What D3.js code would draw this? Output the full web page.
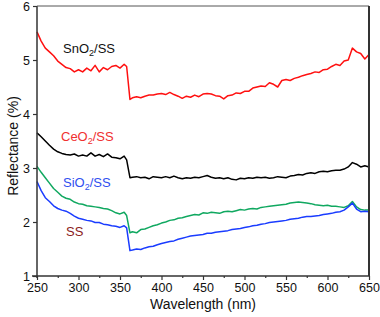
<!DOCTYPE html>
<html>
<head>
<meta charset="utf-8">
<script src="https://cdn.jsdelivr.net/npm/d3@7"></script>
<style>
  body { margin: 0; background: #fff; }
  svg text { font-family: "Liberation Sans", Arial, sans-serif; }
</style>
</head>
<body>
<div id="chart"></div>
<script>
//wavelengths (nm), shared by all four spectra
const wavelength = [250,255,260,265,270,275,280,285,290,295,300,305,310,315,320,325,330,335,340,345,350,355,358,
  362,365,370,375,380,385,390,395,400,405,410,415,420,425,430,435,440,445,450,455,460,465,470,475,480,485,490,495,
  500,505,510,515,520,525,530,535,540,545,550,555,560,565,570,575,580,585,590,595,600,605,610,615,620,625,630,635,640,645,650];

//reflectance (%)
const redSeries = [5.52,5.35,5.22,5.15,5.08,4.98,4.92,4.86,4.84,4.78,4.82,4.78,4.85,4.80,4.90,4.78,4.86,4.82,4.88,4.90,4.85,4.92,4.88,
  4.27,4.30,4.32,4.30,4.33,4.35,4.35,4.37,4.38,4.36,4.40,4.36,4.33,4.29,4.33,4.31,4.35,4.32,4.37,4.38,4.37,4.34,4.33,4.28,4.34,4.35,4.39,4.38,
  4.42,4.42,4.48,4.50,4.52,4.51,4.58,4.55,4.50,4.62,4.64,4.62,4.66,4.68,4.71,4.73,4.75,4.78,4.77,4.82,4.83,4.88,4.92,4.90,4.98,5.00,5.22,5.15,5.12,5.02,5.10];
const blackSeries = [3.65,3.58,3.50,3.42,3.35,3.30,3.27,3.25,3.24,3.26,3.22,3.24,3.22,3.28,3.22,3.25,3.21,3.26,3.20,3.19,3.17,3.22,3.15,
  2.82,2.83,2.84,2.82,2.83,2.80,2.84,2.83,2.82,2.84,2.82,2.85,2.82,2.80,2.82,2.81,2.83,2.82,2.84,2.86,2.83,2.81,2.82,2.80,2.82,2.79,2.78,2.81,
  2.80,2.82,2.81,2.83,2.82,2.83,2.81,2.82,2.84,2.83,2.82,2.85,2.86,2.88,2.87,2.90,2.91,2.90,2.93,2.94,2.93,2.95,2.96,2.96,2.98,3.02,3.10,3.07,3.02,3.04,3.02];
const greenSeries = [3.03,2.92,2.82,2.72,2.62,2.55,2.48,2.44,2.42,2.37,2.34,2.33,2.30,2.29,2.28,2.27,2.25,2.24,2.21,2.17,2.15,2.18,2.12,
  1.80,1.82,1.80,1.86,1.87,1.90,1.93,1.95,1.98,2.00,2.03,2.04,2.07,2.08,2.10,2.12,2.14,2.13,2.17,2.16,2.18,2.17,2.16,2.19,2.20,2.19,2.21,2.23,
  2.22,2.24,2.25,2.24,2.27,2.28,2.29,2.30,2.31,2.32,2.33,2.35,2.36,2.37,2.36,2.35,2.34,2.32,2.31,2.30,2.31,2.29,2.29,2.28,2.27,2.30,2.38,2.28,2.23,2.22,2.22];
const blueSeries = [2.75,2.58,2.45,2.38,2.30,2.25,2.22,2.20,2.16,2.11,2.07,2.05,2.03,2.02,1.99,1.99,1.96,1.95,1.93,1.92,1.90,1.93,1.89,
  1.47,1.48,1.50,1.49,1.52,1.54,1.55,1.58,1.60,1.62,1.64,1.65,1.68,1.70,1.72,1.74,1.75,1.76,1.77,1.79,1.79,1.81,1.82,1.83,1.84,1.86,1.87,1.88,
  1.90,1.91,1.93,1.94,1.96,1.97,1.99,2.00,2.01,2.02,2.03,2.05,2.06,2.07,2.09,2.10,2.10,2.11,2.12,2.14,2.15,2.16,2.18,2.19,2.22,2.28,2.35,2.24,2.19,2.20,2.19];

//axis ticks
const xTicks = [250,300,350,400,450,500,550,600,650];
const xMinorTicks = [275,325,375,425,475,525,575,625];
const yTicks = [1,2,3,4,5,6];

//in-plot labels (text as in the picture)
const labels = [
  { main: "SnO", sub: "2", rest: "/SS", x: 63, y: 53, color: "#111" },
  { main: "CeO", sub: "2", rest: "/SS", x: 61, y: 141, color: "#f03030" },
  { main: "SiO", sub: "2", rest: "/SS", x: 63, y: 187, color: "#2f4ff0" },
  { main: "SS", sub: "", rest: "", x: 66, y: 236, color: "#8b1c1c" }
];

const width = 380, height = 317;
const plotLeft = 37, plotRight = 369, plotTop = 6, plotBottom = 276;

const svg = d3.select("#chart").append("svg")
  .attr("width", width)
  .attr("height", height);

const x = d3.scaleLinear().domain([250, 650]).range([plotLeft, plotRight]);
const y = d3.scaleLinear().domain([1, 6]).range([plotBottom, plotTop]);

/*----------------------
SPECTRA
----------------------*/
const series = [
  { values: blackSeries, color: "#000000" },
  { values: redSeries, color: "#ff1010" },
  { values: greenSeries, color: "#10a860" },
  { values: blueSeries, color: "#1a3cff" }
];

const line = d3.line()
  .x((d, i) => x(wavelength[i]))
  .y(d => y(d));

series.forEach(s => {
  svg.append("path")
    .attr("d", line(s.values))
    .attr("fill", "none")
    .attr("stroke", s.color)
    .attr("stroke-width", 1.5)
    .attr("stroke-linejoin", "round");
});

/*----------------------
AXES
----------------------*/
const axisColor = "#333";

const xAxis = svg.append("g")
  .attr("transform", `translate(0,${plotBottom})`)
  .call(d3.axisBottom(x).tickValues(xTicks).tickSize(4).tickSizeOuter(0).tickPadding(3));

svg.append("g")
  .attr("transform", `translate(0,${plotBottom})`)
  .call(d3.axisBottom(x).tickValues(xMinorTicks).tickSize(2).tickSizeOuter(0).tickFormat(""))
  .call(g => g.select(".domain").remove());

const yAxis = svg.append("g")
  .attr("transform", `translate(${plotLeft},0)`)
  .call(d3.axisLeft(y).tickValues(yTicks).tickSize(4).tickSizeOuter(0).tickPadding(3).tickFormat(d3.format("d")));

svg.selectAll(".tick line").attr("stroke", axisColor).attr("stroke-width", 1.2);
svg.selectAll(".tick text").attr("fill", "#111").style("font-size", "12.5px");
svg.selectAll(".domain").attr("stroke", axisColor).attr("stroke-width", 1.5);

//axes extend a little past each other at the corner
xAxis.select(".domain").attr("d", `M${plotLeft - 5},0H${plotRight}`);
yAxis.select(".domain").attr("d", `M0,${plotTop}V${plotBottom + 2}`);

//frame: top and right
svg.append("line")
  .attr("x1", plotLeft).attr("x2", plotRight)
  .attr("y1", plotTop).attr("y2", plotTop)
  .attr("stroke", "#555").attr("stroke-width", 1);
svg.append("line")
  .attr("x1", plotRight).attr("x2", plotRight)
  .attr("y1", plotTop).attr("y2", plotBottom)
  .attr("stroke", "#333").attr("stroke-width", 2);

//axis titles
svg.append("text")
  .attr("x", (plotLeft + plotRight) / 2)
  .attr("y", 309)
  .attr("text-anchor", "middle")
  .style("font-size", "14px")
  .attr("fill", "#111")
  .text("Wavelength (nm)");

svg.append("text")
  .attr("transform", `translate(18,${(plotTop + plotBottom) / 2 + 5}) rotate(-90)`)
  .attr("text-anchor", "middle")
  .style("font-size", "14px")
  .attr("fill", "#111")
  .text("Reflectance (%)");

/*----------------------
LABELS
----------------------*/
labels.forEach(l => {
  const t = svg.append("text")
    .attr("x", l.x)
    .attr("y", l.y)
    .attr("fill", l.color)
    .style("font-size", "13px");
  t.append("tspan").text(l.main);
  if (l.sub) {
    t.append("tspan").attr("dy", 3).style("font-size", "9px").text(l.sub);
    t.append("tspan").attr("dy", -3).text(l.rest);
  }
});
</script>
</body>
</html>
